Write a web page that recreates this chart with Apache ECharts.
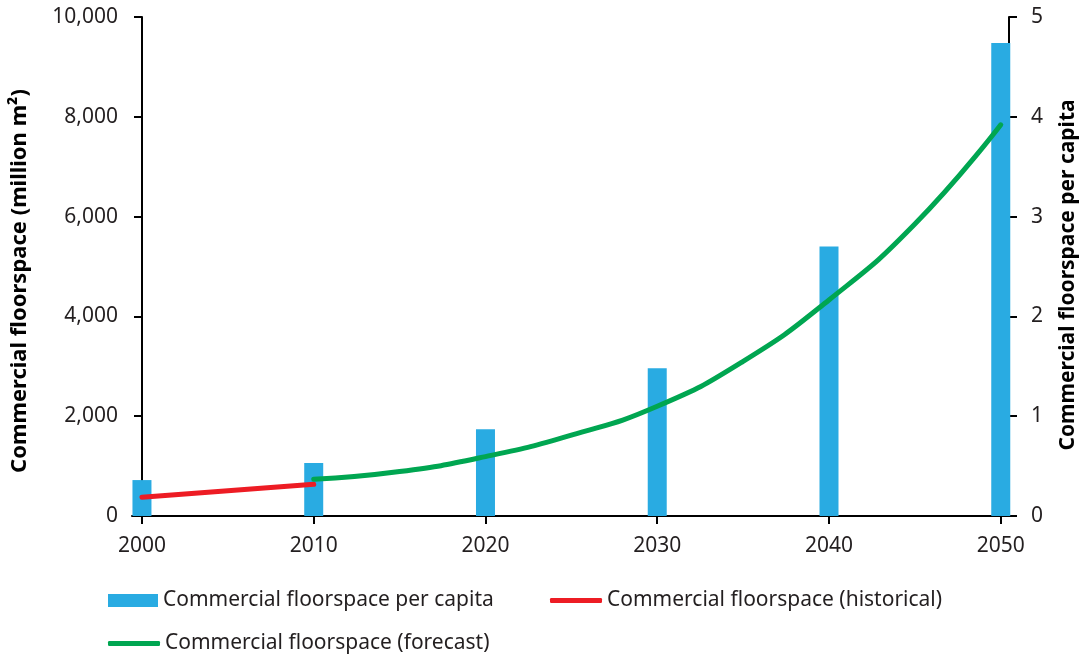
<!DOCTYPE html>
<html>
<head>
<meta charset="utf-8">
<script src="https://cdn.jsdelivr.net/npm/echarts@6/dist/echarts.min.js"></script>
<style>html,body{margin:0;padding:0;background:#fff}#c{width:1083px;height:654px}</style>
</head>
<body>
<div id="c"></div>
<script>
const years = [2000, 2010, 2020, 2030, 2040, 2050];
const perCapita = [0.36, 0.53, 0.87, 1.48, 2.70, 4.74];
const histYears = [2000, 2010];
const histValues = [375, 635];
const fcYears = [2010, 2015, 2020, 2025, 2030, 2035, 2040, 2045, 2050];
const fcValues = [735, 890, 1190, 1620, 2200, 3100, 4330, 5850, 7840];
const leftTicks = [0, 2000, 4000, 6000, 8000, 10000];
const rightTicks = [0, 1, 2, 3, 4, 5];

const FONT = 'Noto Sans';
const TXT = '#231F20';
const chart = echarts.init(document.getElementById('c'));
const zip = (a, b) => a.map((v, i) => [v, b[i]]);
const legendBase = {orient: 'horizontal', padding: 0, itemWidth: 52, itemHeight: 5, itemGap: 5,
  textStyle: {fontFamily: FONT, fontSize: 21, color: TXT}};
chart.setOption({
  animation: false,
  grid: {left: 132, right: 74, top: 17, bottom: 138},
  xAxis: {
    type: 'value', min: 1999.42, max: 2050.48,
    splitLine: {show: false},
    axisLine: {lineStyle: {color: '#000', width: 2}},
    axisTick: {show: true, length: 8, lineStyle: {color: '#000', width: 2}, customValues: years},
    axisLabel: {customValues: years, margin: 20, fontFamily: FONT, fontSize: 21, color: TXT, formatter: v => String(v)}
  },
  yAxis: [{
    type: 'value', min: 0, max: 10000, interval: 2000, position: 'left', offset: -10,
    splitLine: {show: false},
    axisLine: {show: true, lineStyle: {color: '#000', width: 2}},
    axisTick: {show: true, length: 8, lineStyle: {color: '#000', width: 2}},
    axisLabel: {margin: 24, fontFamily: FONT, fontSize: 21, color: TXT, formatter: v => v.toLocaleString('en-US')}
  }, {
    type: 'value', min: 0, max: 5, interval: 1, position: 'right',
    splitLine: {show: false},
    axisLine: {show: true, lineStyle: {color: '#000', width: 2}},
    axisTick: {show: true, length: 8, lineStyle: {color: '#000', width: 2}},
    axisLabel: {margin: 22, fontFamily: FONT, fontSize: 21, color: TXT}
  }],
  legend: [
    Object.assign({}, legendBase, {left: 108, top: 590, itemWidth: 50, itemHeight: 13, data: [{name: 'Commercial floorspace per capita', icon: 'rect'}]}),
    Object.assign({}, legendBase, {left: 550, top: 590, data: [{name: 'Commercial floorspace (historical)', icon: 'roundRect'}]}),
    Object.assign({}, legendBase, {left: 108, top: 633, data: [{name: 'Commercial floorspace (forecast)', icon: 'roundRect'}]})
  ],
  graphic: [
    {type: 'text', x: 20, y: 281, rotation: Math.PI / 2,
      style: {text: 'Commercial floorspace (million m²)', font: 'bold 22px "Noto Sans"', fill: '#000', align: 'center', verticalAlign: 'middle'}},
    {type: 'text', x: 1068, y: 275, rotation: Math.PI / 2,
      style: {text: 'Commercial floorspace per capita', font: 'bold 21px "Noto Sans"', fill: '#000', align: 'center', verticalAlign: 'middle'}}
  ],
  series: [{
    name: 'Commercial floorspace per capita', type: 'bar', yAxisIndex: 1, barWidth: 19,
    itemStyle: {color: '#29ABE2'}, data: zip(years, perCapita), z: 1
  }, {
    name: 'Commercial floorspace (historical)', type: 'line', yAxisIndex: 0, symbol: 'none',
    lineStyle: {color: '#ED1C24', width: 5, cap: 'round'}, itemStyle: {color: '#ED1C24'},
    data: zip(histYears, histValues), z: 3
  }, {
    name: 'Commercial floorspace (forecast)', type: 'line', yAxisIndex: 0, symbol: 'none', smooth: true,
    lineStyle: {color: '#00A651', width: 5, cap: 'round'}, itemStyle: {color: '#00A651'},
    data: zip(fcYears, fcValues), z: 3
  }]
});
</script>
</body>
</html>
